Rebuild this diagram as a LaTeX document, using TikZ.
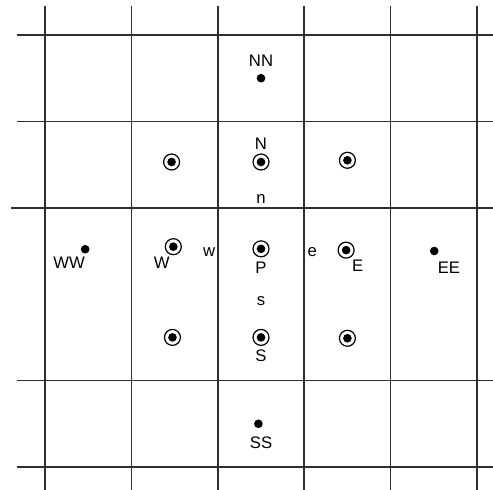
\documentclass[tikz,border=0pt]{standalone}
\usepackage{fontspec}
\setmainfont{Liberation Sans}
\usepackage{tikz}
\usetikzlibrary{positioning}
\definecolor{GridGray}{HTML}{2E2E2E}
\tikzset{
    % Text labels
    every node/.style={font=\fontsize{11}{13}\selectfont},
    lbl/.style={
        inner sep=0pt,
        outer sep=0pt
    },
    % Grid lines
    gridline/.style={
        draw=GridGray,
        line width=1.1pt
    },
    % Node inside the stencil (circled point)
    cv/.style={
        circle,
        draw=black,
        line width=0.8pt,
        minimum size=0.37cm,
        inner sep=0pt,
        path picture={\fill[black] (path picture bounding box.center) circle (0.1);}
    },
    % Far node (plain dot)
    farpt/.style={
        circle,
        fill=black,
        minimum size=0.2cm,
        inner sep=0pt
    }
}
\begin{document}
\begin{tikzpicture}
        \useasboundingbox (-6.042,-5.532) rectangle (5.370,5.810);

        % Grid
        \foreach \x in {-5,-3,-1,1,3,5}
            \draw[gridline] (\x,-5.532) -- (\x,5.671);
        \foreach \y in {-5,-3,3,5}
            \draw[gridline] (-5.648,\y) -- (5.370,\y);
        \draw[gridline] (-5.787,1) -- (5.370,1);

        % Stencil nodes
        \node (NW) [cv] at (-2.07,2.06) {};
        \node (N) [cv] at (0,2.06) {};
        \node (NE) [cv] at (2.0,2.1) {};
        \node (W) [cv] at (-2.03,0.1) {};
        \node (P) [cv] at (0,0.05) {};
        \node (E) [cv] at (1.97,0.02) {};
        \node (SW) [cv] at (-2.05,-2.0) {};
        \node (S) [cv] at (0,-2.0) {};
        \node (SE) [cv] at (2.0,-2.02) {};

        % Far nodes
        \node (NN) [farpt] at (0,4.0) {};
        \node (SS) [farpt] at (-0.06,-4.0) {};
        \node (WW) [farpt] at (-4.07,0.04) {};
        \node (EE) [farpt] at (4.01,0.0) {};

        % Node labels
        \node (NNlbl) [lbl, above=0.16cm of NN] {NN};
        \node (Nlbl) [lbl, above=0.09cm of N] {N};
        \node (Plbl) [lbl, below=0.11cm of P] {P};
        \node (Slbl) [lbl, below=0.09cm of S] {S};
        \node (SSlbl) [lbl, below=0.2cm of SS, xshift=0.06cm] {SS};
        \node (Wlbl) [lbl, below=0.05cm of W, xshift=-0.27cm] {W};
        \node (Elbl) [lbl, below=0.02cm of E, xshift=0.27cm] {E};
        \node (WWlbl) [lbl, below=0.07cm of WW, xshift=-0.37cm] {WW};
        \node (EElbl) [lbl, below=0.15cm of EE, xshift=0.34cm] {EE};

        % Face labels
        \node (n) [lbl, above=0.85cm of P] {n};
        \node (s) [lbl, below=0.91cm of P] {s};
        \node (w) [lbl, left=0.86cm of P, yshift=-0.08cm] {w};
        \node (e) [lbl, right=0.88cm of P, yshift=-0.07cm] {e};
    \end{tikzpicture}
\end{document}
